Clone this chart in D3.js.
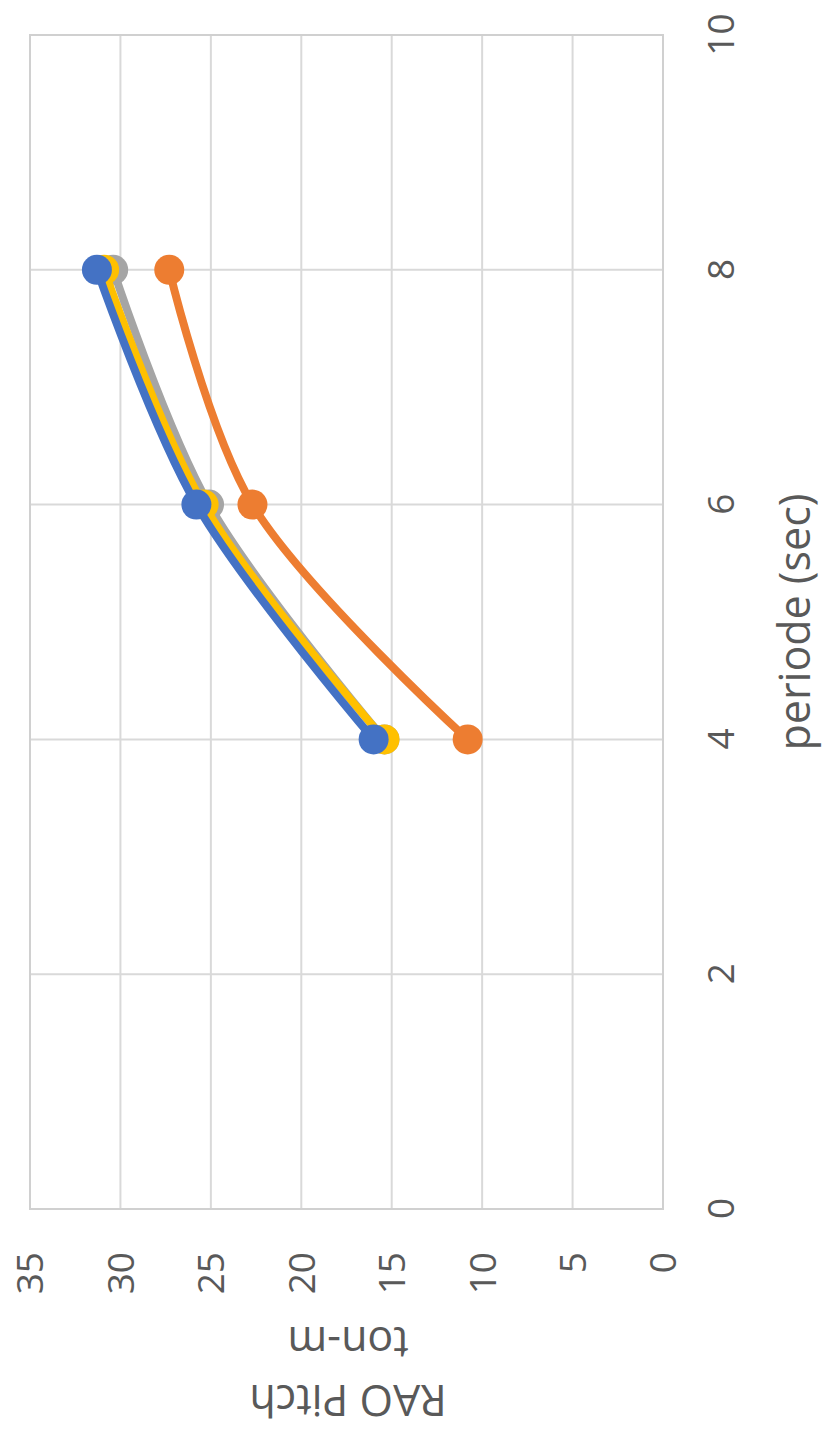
<!DOCTYPE html>
<html><head><meta charset="utf-8">
<script src="https://cdn.jsdelivr.net/npm/d3@7"></script>
<style>html,body{margin:0;padding:0;background:#fff;}svg{display:block;}</style>
</head><body>
<svg id="chart" width="822" height="1431"></svg>
<script>
const periods = [4, 6, 8];
const seriesNames = ["S1", "S2", "S3", "S4"];
const blueVals   = [16.0, 25.8, 31.3];
const orangeVals = [10.8, 22.7, 27.3];
const grayVals   = [15.4, 25.1, 30.4];
const yellowVals = [15.4, 25.4, 30.9];
const xTicks = [0, 2, 4, 6, 8, 10];
const yTicks = [0, 5, 10, 15, 20, 25, 30, 35];
const xTitle = "periode (sec)";
const yTitle1 = "RAO Pitch";
const yTitle2 = "ton-m";

const W = 1431, H = 822;
const svg = d3.select("#chart");
// chart drawn in its own frame, rotated 90° counter-clockwise
const g = svg.append("g").attr("transform", `translate(0,${W}) rotate(-90)`);

const x = d3.scaleLinear().domain([0, 10]).range([222, 1396]);
const y = d3.scaleLinear().domain([0, 35]).range([663, 30]);
const font = "'Open Sans', 'Noto Sans', sans-serif";
const txt = "#595959";

// gridlines
g.append("g").selectAll("line").data(xTicks).join("line")
  .attr("x1", d => x(d)).attr("x2", d => x(d))
  .attr("y1", y(35)).attr("y2", y(0))
  .attr("stroke", "#d9d9d9").attr("stroke-width", 2);
g.append("g").selectAll("line").data(yTicks).join("line")
  .attr("x1", x(0)).attr("x2", x(10))
  .attr("y1", d => y(d)).attr("y2", d => y(d))
  .attr("stroke", "#d9d9d9").attr("stroke-width", 2);
g.append("rect").attr("x", x(0)).attr("y", y(35))
  .attr("width", x(10) - x(0)).attr("height", y(0) - y(35))
  .attr("fill", "none").attr("stroke", "#d0d0d0").attr("stroke-width", 2);

// axes
const xAxis = g.append("g").attr("transform", `translate(0,${y(0)})`)
  .call(d3.axisBottom(x).tickValues(xTicks).tickSize(0).tickFormat(d3.format("d")));
xAxis.select(".domain").remove();
xAxis.selectAll("text").attr("y", 58).attr("dy", "0.35em")
  .attr("font-family", font).attr("font-size", 37).attr("fill", txt);

const yAxis = g.append("g").attr("transform", `translate(${x(0)},0)`)
  .call(d3.axisLeft(y).tickValues(yTicks).tickSize(0).tickFormat(d3.format("d")));
yAxis.select(".domain").remove();
yAxis.selectAll("text").attr("x", -43).attr("dy", "0.35em")
  .attr("font-family", font).attr("font-size", 37).attr("fill", txt);

// titles
g.append("text").attr("x", (x(0) + x(10)) / 2).attr("y", 810)
  .attr("text-anchor", "middle").attr("font-family", font).attr("font-size", 43)
  .attr("fill", txt).text(xTitle);
g.append("text").attr("transform", `translate(46,348) rotate(-90)`)
  .attr("text-anchor", "middle").attr("font-family", font).attr("font-size", 43)
  .attr("fill", txt).text(yTitle1);
g.append("text").attr("transform", `translate(104,348) rotate(-90)`)
  .attr("text-anchor", "middle").attr("font-family", font).attr("font-size", 43)
  .attr("fill", txt).text(yTitle2);

// series (draw order: orange, gray, yellow, blue)
const series = [
  {name: seriesNames[1], vals: orangeVals, color: "#ED7D31"},
  {name: seriesNames[2], vals: grayVals, color: "#A5A5A5"},
  {name: seriesNames[3], vals: yellowVals, color: "#FFC000"},
  {name: seriesNames[0], vals: blueVals, color: "#4472C4"}
];
const line = d3.line().x(d => x(d[0])).y(d => y(d[1])).curve(d3.curveCatmullRom.alpha(0.5));
series.forEach(s => {
  const pts = periods.map((p, i) => [p, s.vals[i]]);
  const sg = g.append("g");
  sg.append("path").attr("d", line(pts)).attr("fill", "none")
    .attr("stroke", s.color).attr("stroke-width", 8).attr("stroke-linecap", "round");
  sg.selectAll("circle").data(pts).join("circle")
    .attr("cx", d => x(d[0])).attr("cy", d => y(d[1])).attr("r", 15)
    .attr("fill", s.color);
});
</script>
</body></html>
